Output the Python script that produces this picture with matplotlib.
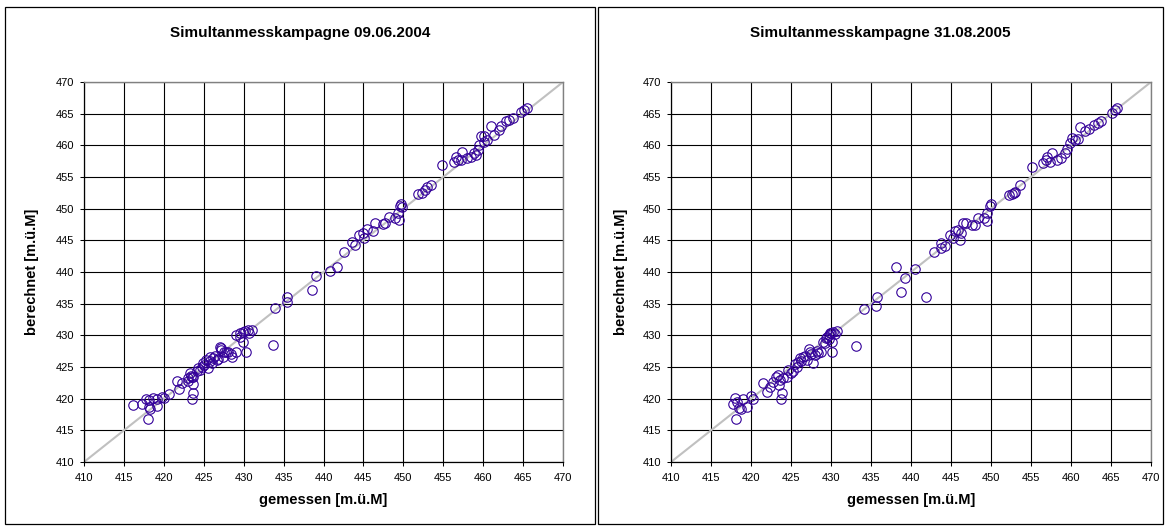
import matplotlib
matplotlib.use("Agg")
import matplotlib.pyplot as plt
from matplotlib.patches import Rectangle

plt.rcParams["font.family"] = ["Liberation Sans", "DejaVu Sans"]

# Simultanmesskampagne 09.06.2004: gemessen / berechnet [m.ü.M]
gem_2004 = [416.2, 417.3, 417.75, 418.2, 418.2, 418.3, 418.0, 418.6, 419.1, 419.2,
            419.8, 420.0, 420.7, 421.6, 421.9, 422.3, 423.0, 423.25, 423.5, 423.7,
            424.1, 424.5, 423.6, 423.7, 423.5, 423.0, 423.4, 424.8, 424.9, 425.3,
            425.75, 426.2, 426.6, 425.5, 425.0, 425.8, 426.0, 427.0, 427.2, 427.1,
            427.4, 427.8, 428.5, 429.1, 428.4, 429.1, 429.5, 429.9, 430.2, 430.5,
            431.0, 430.7, 429.6, 429.9, 430.3, 426.4, 427.5, 428.0, 426.8, 424.3,
            433.7, 433.9, 435.4, 435.4, 438.6, 439.0, 440.8, 441.7, 442.6, 443.6,
            444.0, 444.4, 444.9, 445.1, 445.5, 446.2, 446.4, 447.4, 447.75, 448.2,
            448.9, 449.3, 449.4, 449.6, 449.7, 449.8, 451.8, 452.4, 452.75, 453.0,
            453.5, 454.9, 456.4, 456.6, 456.9, 457.3, 457.2, 458.0, 458.5, 458.9,
            459.3, 459.1, 459.5, 459.7, 460.1, 460.1, 460.5, 461.0, 461.4, 462.0,
            462.2, 462.9, 463.25, 463.75, 464.7, 465.1, 465.5]
ber_2004 = [418.95, 419.1, 419.9, 419.8, 418.7, 418.4, 416.8, 420.1, 419.9, 418.9,
            420.2, 420.1, 420.7, 422.8, 421.5, 422.4, 423.2, 424.0, 423.4, 423.5,
            424.3, 424.5, 422.3, 420.9, 420.0, 422.8, 423.6, 425.0, 425.6, 426.1,
            426.6, 426.4, 426.1, 424.8, 425.3, 425.9, 425.6, 428.2, 427.7, 428.0,
            426.6, 427.4, 426.6, 427.4, 427.0, 430.1, 430.3, 430.6, 430.7, 430.9,
            430.8, 430.3, 429.7, 429.0, 427.3, 426.8, 427.4, 427.3, 426.3, 424.8,
            428.4, 434.3, 436.1, 435.3, 437.1, 439.3, 440.2, 440.85, 443.1, 444.8,
            444.3, 445.9, 446.1, 445.3, 446.75, 446.4, 447.8, 447.6, 447.7, 448.65,
            448.5, 449.3, 448.2, 450.4, 450.75, 450.2, 452.3, 452.45, 452.9, 453.5,
            453.8, 456.9, 457.4, 458.2, 457.7, 459.0, 457.7, 458.0, 458.2, 458.8,
            459.3, 458.5, 460.1, 461.4, 460.6, 461.4, 460.9, 463.0, 461.7, 462.45,
            463.0, 463.8, 464.0, 464.3, 465.3, 465.6, 465.9]

# Simultanmesskampagne 31.08.2005
gem_2005 = [417.7, 418.0, 418.2, 418.5, 418.7, 419.0, 419.5, 420.0, 420.2, 418.1,
            421.5, 422.0, 422.4, 422.8, 423.1, 423.4, 423.6, 423.9, 423.75, 423.5,
            424.0, 424.5, 425.0, 425.3, 425.7, 425.9, 426.1, 426.5, 426.95, 427.2,
            427.4, 427.8, 428.0, 428.4, 428.8, 429.25, 429.5, 429.9, 430.3, 430.7,
            430.5, 429.7, 430.1, 430.1, 426.3, 426.7, 427.5, 428.2, 429.0, 429.4,
            429.8, 430.0, 424.6, 425.5, 433.1, 434.1, 435.6, 435.7, 438.1, 438.8,
            439.2, 440.5, 441.9, 442.9, 443.75, 443.8, 444.25, 444.9, 445.3, 445.5,
            445.9, 446.3, 446.1, 446.5, 446.9, 447.6, 448.0, 448.4, 449.1, 449.5,
            449.5, 449.9, 450.0, 452.2, 452.6, 452.9, 453.6, 453.0, 455.1, 456.5,
            456.9, 457.0, 457.6, 457.4, 458.2, 458.8, 459.25, 459.5, 459.9, 460.1,
            460.5, 460.9, 461.1, 461.75, 462.3, 462.9, 463.4, 463.7, 465.1, 465.5,
            465.7]
ber_2005 = [419.1, 420.1, 419.5, 418.6, 418.3, 419.9, 418.7, 420.4, 419.9, 416.8,
            422.5, 421.1, 421.9, 422.7, 423.5, 423.7, 422.95, 420.85, 419.9, 422.2,
            423.2, 423.5, 424.0, 424.3, 425.05, 425.85, 426.4, 426.6, 426.1, 427.8,
            427.4, 425.6, 426.9, 427.2, 427.3, 428.75, 429.8, 430.3, 430.6, 430.7,
            430.2, 429.4, 427.4, 429.0, 426.0, 426.8, 427.0, 427.6, 428.9, 429.6,
            430.0, 430.4, 424.6, 425.5, 428.3, 434.1, 434.6, 436.1, 440.85, 436.8,
            439.0, 440.4, 436.0, 443.1, 443.8, 444.65, 444.1, 445.9, 445.3, 446.4,
            446.65, 446.1, 445.1, 447.7, 447.7, 447.4, 447.4, 448.5, 448.5, 448.1,
            449.3, 450.4, 450.75, 452.2, 452.3, 452.55, 453.8, 452.7, 456.65, 457.2,
            457.7, 458.2, 458.75, 457.4, 457.7, 458.0, 458.75, 459.5, 460.3, 461.1,
            460.9, 461.0, 462.9, 462.2, 462.55, 463.2, 463.6, 463.9, 465.1, 465.6,
            465.9]

titles = ["Simultanmesskampagne 09.06.2004", "Simultanmesskampagne 31.08.2005"]
ticks = list(range(410, 475, 5))

W, H = 1167, 530
fig = plt.figure(figsize=(W / 100, H / 100), dpi=100)


def px_box(x0, y0, x1, y1):
    # pixel box (top-left origin) -> figure fraction rect
    return [x0 / W, 1 - y1 / H, (x1 - x0) / W, (y1 - y0) / H]


panels = [
    dict(frame=(5, 7, 595, 524), ax=(84, 82, 563, 462), ylab_x=32,
         gem=gem_2004, ber=ber_2004, title=titles[0]),
    dict(frame=(598, 7, 1163, 524), ax=(671, 82, 1151, 462), ylab_x=621,
         gem=gem_2005, ber=ber_2005, title=titles[1]),
]

for p in panels:
    fx0, fy0, fx1, fy1 = p["frame"]
    fig.add_artist(Rectangle((fx0 / W, 1 - fy1 / H), (fx1 - fx0) / W, (fy1 - fy0) / H,
                             transform=fig.transFigure, fill=False,
                             edgecolor="black", linewidth=0.9))
    ax = fig.add_axes(px_box(*p["ax"]))
    ax.plot([410, 470], [410, 470], color="#c0c0c0", linewidth=1.5, zorder=2)
    ax.plot(p["gem"], p["ber"], linestyle="none", marker="o", markersize=6.8,
            markerfacecolor="none", markeredgecolor="#330099",
            markeredgewidth=0.8, zorder=3)
    ax.set_xlim(410, 470)
    ax.set_ylim(410, 470)
    ax.set_xticks(ticks)
    ax.set_yticks(ticks)
    ax.grid(True, color="black", linewidth=0.8, zorder=1)
    ax.set_axisbelow(True)
    ax.tick_params(direction="out", length=3, width=0.75, labelsize=8,
                   colors="black", pad=4)
    ax.tick_params(axis="x", pad=5)
    for side in ("top", "right"):
        ax.spines[side].set_color("#808080")
        ax.spines[side].set_linewidth(1.0)
    for side in ("left", "bottom"):
        ax.spines[side].set_color("black")
        ax.spines[side].set_linewidth(0.9)

    fig.text((fx0 + fx1) / 2 / W, 1 - 33 / H, p["title"], ha="center", va="center",
             fontsize=11, fontweight="bold")
    ax0, ay0, ax1, ay1 = p["ax"]
    fig.text((ax0 + ax1) / 2 / W, 1 - 500 / H, "gemessen [m.ü.M]", ha="center",
             va="center", fontsize=10.5, fontweight="bold")
    fig.text(p["ylab_x"] / W, 1 - (ay0 + ay1) / 2 / H, "berechnet [m.ü.M]",
             ha="center", va="center", rotation=90, fontsize=10.5, fontweight="bold")

fig.savefig("out.png", dpi=100)
